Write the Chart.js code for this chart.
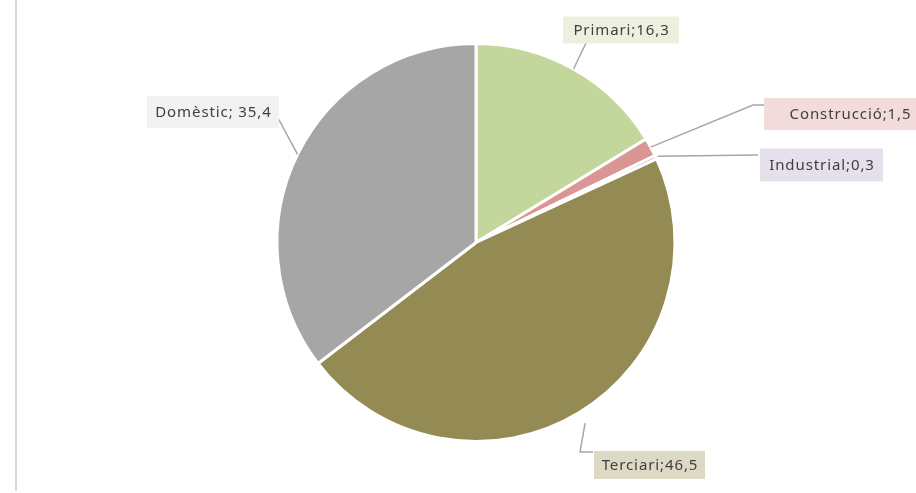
<!DOCTYPE html>
<html>
<head>
<meta charset="utf-8">
<script src="https://cdn.jsdelivr.net/npm/chart.js@4.4.1/dist/chart.umd.min.js"></script>
<style>
  html, body { margin: 0; padding: 0; background: #fff; }
  #wrap { position: relative; width: 916px; height: 493px; overflow: hidden; }
  #rule { position: absolute; left: 15px; top: 0; width: 2px; height: 491px; background: #d9d9d9; }
</style>
</head>
<body>
<div id="wrap">
  <div id="rule"></div>
  <canvas id="pie" width="916" height="493"></canvas>
</div>
<script>
const categories = ['Primari', 'Construcció', 'Industrial', 'Terciari', 'Domèstic'];
const values = [16.3, 1.5, 0.3, 46.5, 35.4];
const sliceColors = ['#c3d69b', '#d99694', '#b3a2c7', '#948a54', '#a6a6a6'];
const labelColors = ['#ebf1de', '#f2dcdb', '#e5e0ec', '#ddd9c4', '#f2f2f2'];

// posicio de les etiquetes respecte del centre del pastis
const labelLayout = [
  { box: [145, -212.5, 116, 27], path: [[110, -199.5]], gap: 0, sep: ';' },
  { box: [374, -128.5, 172, 32], path: [[277, -137.5], [288, -137.5]], gap: 0, sep: ';' },
  { box: [345.5, -77.5, 123, 33], path: [[282, -87.5]], gap: 2, sep: ';' },
  { box: [173.5, 222.5, 111, 28], path: [[104, 209.5], [117, 209.5]], gap: 12, sep: ';' },
  { box: [-263, -130.5, 132, 32], path: [[-198, -124.5]], gap: 0, sep: '; ' }
];

const calloutPlugin = {
  id: 'callouts',
  afterDatasetsDraw(chart) {
    const ctx = chart.ctx;
    const arcs = chart.getDatasetMeta(0).data;
    ctx.save();
    arcs.forEach((arc, i) => {
      const lay = labelLayout[i];
      const cx = arc.x, cy = arc.y;
      const mid = (arc.startAngle + arc.endAngle) / 2;
      const r = arc.outerRadius + lay.gap;
      // linia guia
      ctx.beginPath();
      ctx.strokeStyle = '#a6a6a6';
      ctx.lineWidth = 1.5;
      ctx.moveTo(cx + Math.cos(mid) * r, cy + Math.sin(mid) * r);
      lay.path.forEach(p => ctx.lineTo(cx + p[0], cy + p[1]));
      ctx.stroke();
      // caixa
      const [bx, by, bw, bh] = lay.box;
      ctx.fillStyle = labelColors[i];
      ctx.fillRect(cx + bx - bw / 2, cy + by - bh / 2, bw, bh);
      // text
      const txt = categories[i] + lay.sep + values[i].toLocaleString('ca-ES');
      ctx.fillStyle = '#404040';
      ctx.font = '15px "Noto Sans"';
      ctx.letterSpacing = '0.9px';
      ctx.textAlign = 'center';
      ctx.textBaseline = 'middle';
      ctx.fillText(txt, cx + bx + 0.5, cy + by + 1);
    });
    ctx.restore();
  }
};

new Chart(document.getElementById('pie'), {
  type: 'pie',
  data: {
    labels: categories,
    datasets: [{
      data: values,
      backgroundColor: sliceColors,
      borderColor: '#ffffff',
      borderWidth: 3
    }]
  },
  options: {
    responsive: false,
    animation: false,
    layout: { padding: { left: 36, right: 0, top: 42, bottom: 50 } },
    plugins: {
      legend: { display: false },
      tooltip: { enabled: false }
    }
  },
  plugins: [calloutPlugin]
});
</script>
</body>
</html>
